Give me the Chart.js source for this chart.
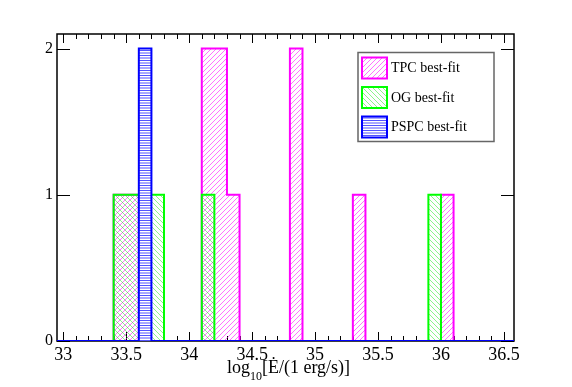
<!DOCTYPE html>
<html>
<head>
<meta charset="utf-8">
<script src="https://cdn.jsdelivr.net/npm/chart.js@4"></script>
<style>
body { margin: 0; background: #fff; }
</style>
</head>
<body>
<canvas id="chart_hist" width="572" height="387"></canvas>
<script>
// histogram bins: left edge of each 0.1-wide bin and its count
const binWidth = 0.1;
const xRange = [32.95, 36.58];
const yRange = [0, 2.1];
const xTickLabels = [33, 33.5, 34, 34.5, 35, 35.5, 36, 36.5];
const yTickLabels = [0, 1, 2];
const seriesNames = ["TPC best-fit", "OG best-fit", "PSPC best-fit"];

const tpcBins   = [33.4, 33.5, 34.1, 34.2, 34.3, 34.8, 35.3, 36.0];
const tpcCounts = [1, 1, 2, 2, 1, 2, 1, 1];
const ogBins    = [33.4, 33.5, 33.6, 33.7, 34.1, 35.9];
const ogCounts  = [1, 1, 1, 1, 1, 1];
const pspcBins   = [33.6];
const pspcCounts = [2];

const serif = "'Liberation Serif', 'DejaVu Serif', serif";

function stepPoints(bins, counts) {
    const pts = [{ x: xRange[0], y: 0 }];
    bins.forEach((b, i) => {
        pts.push({ x: b, y: counts[i] });
        const next = bins[i + 1];
        if (next === undefined || Math.abs(next - (b + binWidth)) > 1e-6) {
            pts.push({ x: +(b + binWidth).toFixed(2), y: 0 });
        }
    });
    pts.push({ x: xRange[1], y: 0 });
    return pts;
}

function hatch(kind, color, bg) {
    const c = document.createElement('canvas');
    c.width = 5; c.height = 5;
    const g = c.getContext('2d');
    if (bg) { g.fillStyle = bg; g.fillRect(0, 0, 5, 5); }
    g.strokeStyle = color;
    g.fillStyle = color;
    g.lineWidth = 1;
    if (kind === 'h') {
        g.fillRect(0, 0, 5, 1);
        g.fillRect(0, 2.5, 5, 1);
    } else {
        g.beginPath();
        if (kind === '/') {
            g.moveTo(-1, 6); g.lineTo(6, -1);
            g.moveTo(-1, 1); g.lineTo(1, -1);
            g.moveTo(4, 6); g.lineTo(6, 4);
        } else {
            g.moveTo(-1, -1); g.lineTo(6, 6);
            g.moveTo(-1, 4); g.lineTo(1, 6);
            g.moveTo(4, -1); g.lineTo(6, 1);
        }
        g.stroke();
    }
    return g.createPattern(c, 'repeat');
}

const tpcFill = hatch('/', 'rgba(255,0,255,0.55)');
const ogFill = hatch('\\', 'rgba(0,230,0,0.45)');
const pspcFill = hatch('h', 'rgba(40,40,255,0.8)', '#fff');

const frameAndLegend = {
    id: 'frameAndLegend',
    beforeDatasetsDraw(chart) {
        const ctx = chart.ctx;
        const a = chart.chartArea;
        const xs = chart.scales.x, ys = chart.scales.y;
        ctx.save();
        ctx.strokeStyle = '#000';
        ctx.lineWidth = 1.5;
        ctx.strokeRect(a.left, a.top, a.right - a.left, a.bottom - a.top);
        ctx.lineWidth = 1;
        ctx.beginPath();
        for (let k = 0; k <= 35; k++) {
            const v = 33 + k * 0.1;
            const px = Math.round(xs.getPixelForValue(v)) + 0.5;
            const len = k % 5 === 0 ? 9 : 5;
            ctx.moveTo(px, a.bottom); ctx.lineTo(px, a.bottom - len);
            ctx.moveTo(px, a.top); ctx.lineTo(px, a.top + len);
        }
        yTickLabels.forEach(v => {
            const py = Math.round(ys.getPixelForValue(v)) + 0.5;
            ctx.moveTo(a.left, py); ctx.lineTo(a.left + 13, py);
            ctx.moveTo(a.right, py); ctx.lineTo(a.right - 13, py);
        });
        ctx.stroke();
        ctx.restore();
    },
    afterDraw(chart) {
        const ctx = chart.ctx;
        const a = chart.chartArea;
        ctx.save();
        // legend box
        const bx = a.right - 156, by = a.top + 18.5, bw = 136, bh = 89;
        ctx.fillStyle = '#fff';
        ctx.fillRect(bx, by, bw, bh);
        ctx.strokeStyle = '#666';
        ctx.lineWidth = 1.5;
        ctx.strokeRect(bx, by, bw, bh);
        const colors = ['#ff00ff', '#00ff00', '#0000ff'];
        const fills = [tpcFill, ogFill, pspcFill];
        ctx.font = "14px " + serif;
        ctx.textBaseline = 'middle';
        seriesNames.forEach((name, i) => {
            const sy = by + 5 + i * 29.5;
            ctx.fillStyle = fills[i];
            ctx.fillRect(bx + 4, sy, 25, 21);
            ctx.strokeStyle = colors[i];
            ctx.lineWidth = 2;
            ctx.strokeRect(bx + 4, sy, 25, 21);
            ctx.fillStyle = '#000';
            ctx.fillText(name, bx + 33, sy + 11);
        });
        // axis title with subscript
        const big = "18px " + serif, small = "12px " + serif;
        const p1 = "log", p2 = "10", p3 = "[\u0116/(1 erg/s)]";
        ctx.font = big; const w1 = ctx.measureText(p1).width, w3 = ctx.measureText(p3).width;
        ctx.font = small; const w2 = ctx.measureText(p2).width;
        let x = (a.left + a.right) / 2 + 3 - (w1 + w2 + w3) / 2;
        const base = 373;
        ctx.fillStyle = '#000';
        ctx.textBaseline = 'alphabetic';
        ctx.textAlign = 'left';
        ctx.font = big; ctx.fillText(p1, x, base); x += w1;
        ctx.font = small; ctx.fillText(p2, x, base + 7); x += w2;
        ctx.font = big; ctx.fillText(p3, x, base);
        ctx.restore();
    }
};

const histChart = new Chart(document.getElementById("chart_hist"), {
    type: 'line',
    data: {
        datasets: [
            { label: seriesNames[2], data: stepPoints(pspcBins, pspcCounts), stepped: true,
              borderColor: '#0000ff', backgroundColor: pspcFill, fill: 'origin', borderWidth: 2, pointRadius: 0 },
            { label: seriesNames[1], data: stepPoints(ogBins, ogCounts), stepped: true,
              borderColor: '#00ff00', backgroundColor: ogFill, fill: 'origin', borderWidth: 2, pointRadius: 0 },
            { label: seriesNames[0], data: stepPoints(tpcBins, tpcCounts), stepped: true,
              borderColor: '#ff00ff', backgroundColor: tpcFill, fill: 'origin', borderWidth: 2, pointRadius: 0 }
        ]
    },
    options: {
        responsive: false,
        animation: false,
        layout: { padding: { top: 34, right: 58, left: 0, bottom: 0 } },
        plugins: { legend: { display: false }, tooltip: { enabled: false } },
        scales: {
            x: {
                type: 'linear', min: xRange[0], max: xRange[1],
                afterBuildTicks: s => { s.ticks = xTickLabels.map(v => ({ value: v })); },
                afterFit: s => { s.height = 46; },
                grid: { display: false }, border: { display: false },
                ticks: { font: { family: serif, size: 18 }, color: '#000', padding: -5,
                         maxRotation: 0, autoSkip: false, callback: v => String(v) }
            },
            y: {
                min: yRange[0], max: yRange[1],
                afterBuildTicks: s => { s.ticks = yTickLabels.map(v => ({ value: v })); },
                afterFit: s => { s.width = 57; },
                grid: { display: false }, border: { display: false },
                ticks: { font: { family: serif, size: 16 }, color: '#000', padding: -4,
                         callback: v => String(v) }
            }
        }
    },
    plugins: [frameAndLegend]
});
</script>
</body>
</html>
